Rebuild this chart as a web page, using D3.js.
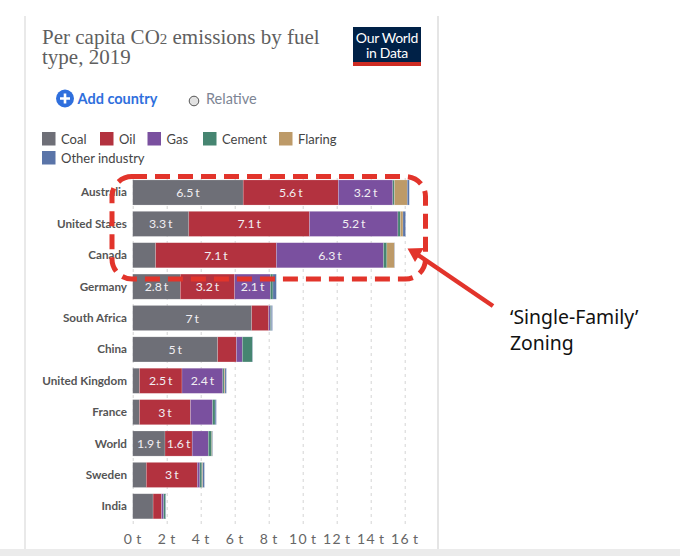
<!DOCTYPE html>
<html lang="en">
<head>
<meta charset="UTF-8">
<title>Per capita CO2 emissions by fuel type, 2019</title>
<script src="https://d3js.org/d3.v7.min.js"></script>
<style>
    html, body { margin: 0; padding: 0; background: #fff; }
    svg { display: block; }
    text { font-family: Lato, sans-serif; }
    .grid line { stroke: #d4d4d4; stroke-dasharray: 3 4; }
    .tick-label { fill: #666; letter-spacing: 1.4px; word-spacing: -2px; }
    .country { font-size: 11.7px; font-weight: 700; fill: #555; }
    .bar-label { font-size: 12.3px; fill: #f1eef2; word-spacing: -1.2px; }
    .legend-label { font-size: 13px; fill: #444; }
</style>
</head>
<body>
<div id="chart"></div>
<script>
    const countries = ["Australia", "United States", "Canada", "Germany", "South Africa", "China",
        "United Kingdom", "France", "World", "Sweden", "India"];

    const coal = [6.5, 3.3, 1.35, 2.8, 7, 5, 0.4, 0.4, 1.9, 0.8, 1.2];
    const oil = [5.6, 7.1, 7.1, 3.2, 1, 1.1, 2.5, 3, 1.6, 3, 0.5];
    const gas = [3.2, 5.2, 6.3, 2.1, 0.1, 0.35, 2.4, 1.3, 0.95, 0.15, 0.12];
    const cement = [0.1, 0.15, 0.2, 0.15, 0.06, 0.6, 0.08, 0.15, 0.2, 0.12, 0.12];
    const flaring = [0.75, 0.15, 0.45, 0, 0, 0, 0.05, 0, 0.03, 0.05, 0];
    const otherIndustry = [0.12, 0.15, 0.02, 0.2, 0.06, 0.02, 0.08, 0.07, 0.03, 0.1, 0.02];

    const fuels = ["Coal", "Oil", "Gas", "Cement", "Flaring", "Other industry"];
    const fuelValues = [coal, oil, gas, cement, flaring, otherIndustry];
    const fuelColors = ["#6e6f77", "#b3323f", "#7a509f", "#468571", "#bd9a68", "#5a74a8"];
    const xTicks = [0, 2, 4, 6, 8, 10, 12, 14, 16];

    const width = 680, height = 556;

    const svg = d3.select("#chart").append("svg")
        .attr("width", width)
        .attr("height", height);

    // card edges and the grey strip at the bottom of the screenshot
    svg.append("line").attr("x1", 25).attr("x2", 25).attr("y1", 16).attr("y2", 549)
        .attr("stroke", "#e2e2e2").attr("stroke-width", 1.5);
    svg.append("line").attr("x1", 438).attr("x2", 438).attr("y1", 16).attr("y2", 549)
        .attr("stroke", "#dcdcdc").attr("stroke-width", 1.5);
    svg.append("rect").attr("x", 0).attr("y", 549).attr("width", width).attr("height", 7)
        .attr("fill", "#ebebeb");

    // title
    const title = svg.append("text")
        .style("font-family", "'Liberation Serif', serif")
        .style("font-size", "21px")
        .attr("fill", "#5f5f5f");
    const firstLine = title.append("tspan").attr("x", 42).attr("y", 44);
    firstLine.append("tspan").text("Per capita CO");
    firstLine.append("tspan").style("font-size", "15px").text("2");
    firstLine.append("tspan").text(" emissions by fuel");
    title.append("tspan").attr("x", 42).attr("y", 64).text("type, 2019");

    // logo
    svg.append("rect").attr("x", 353).attr("y", 27).attr("width", 68).attr("height", 39).attr("fill", "#002147");
    svg.append("rect").attr("x", 353).attr("y", 62).attr("width", 68).attr("height", 4).attr("fill", "#ce2b22");
    const logoText = svg.append("text")
        .attr("text-anchor", "middle")
        .attr("fill", "#fff")
        .style("font-size", "14px")
        .style("letter-spacing", "-0.3px");
    logoText.append("tspan").attr("x", 387).attr("y", 43).text("Our World");
    logoText.append("tspan").attr("x", 387).attr("y", 57.5).text("in Data");

    // controls
    svg.append("circle").attr("cx", 65).attr("cy", 98.5).attr("r", 9).attr("fill", "#2f6fdd");
    svg.append("path").attr("d", "M60 98.5H70M65 93.5V103.5").attr("stroke", "#fff").attr("stroke-width", 2.6);
    svg.append("text").attr("x", 77.5).attr("y", 104).attr("fill", "#2f6fdd")
        .style("font-size", "14.5px").style("font-weight", 700).text("Add country");
    svg.append("circle").attr("cx", 194).attr("cy", 101).attr("r", 4.8)
        .attr("fill", "#e2e2e2").attr("stroke", "#555").attr("stroke-width", 1);
    svg.append("text").attr("x", 206).attr("y", 104).attr("fill", "#7d8594")
        .style("font-size", "14.5px").text("Relative");

    // legend, wrapped onto two rows like the original
    const legendX = [42, 100, 147.5, 203, 279, 42];
    const legendY = [132, 132, 132, 132, 132, 151];
    const legend = svg.selectAll(".legend")
        .data(fuels)
        .enter()
        .append("g")
        .attr("class", "legend")
        .attr("transform", (d, i) => `translate(${legendX[i]},${legendY[i]})`);
    legend.append("rect").attr("width", 13.5).attr("height", 13.5).attr("fill", (d, i) => fuelColors[i]);
    legend.append("text").attr("class", "legend-label").attr("x", 19).attr("y", 11.5).text(d => d);

    // scales
    const x = d3.scaleLinear().domain([0, 16]).range([132.7, 404.7]);
    const y = d3.scaleBand().domain(countries).range([176.8, 522]).paddingInner(0.2).paddingOuter(0.1);

    // grid and axis
    const axis = svg.append("g")
        .attr("class", "grid")
        .attr("transform", "translate(0,524)")
        .call(d3.axisBottom(x).tickValues(xTicks).tickSize(-348).tickFormat(d => d + " t"));
    axis.select(".domain").remove();
    axis.selectAll("text").attr("class", "tick-label").attr("y", 20).attr("dy", 0)
        .style("font-family", "Lato, sans-serif").style("font-size", "14px");
    axis.attr("font-family", null).attr("font-size", null);

    // bars
    const rows = countries.map((c, i) => {
        const row = { country: c };
        fuels.forEach((f, j) => { row[f] = fuelValues[j][i]; });
        return row;
    });
    const stacked = d3.stack().keys(fuels)(rows);

    const series = svg.selectAll(".series")
        .data(stacked)
        .enter()
        .append("g")
        .attr("class", "series")
        .attr("fill", (d, i) => fuelColors[i]);

    series.selectAll("rect")
        .data(d => d)
        .enter()
        .append("rect")
        .attr("x", d => x(d[0]))
        .attr("y", d => y(d.data.country))
        .attr("width", d => x(d[1]) - x(d[0]))
        .attr("height", y.bandwidth())
        .attr("stroke", "#fff")
        .attr("stroke-opacity", 0.3)
        .attr("stroke-width", 0.6);

    // value labels only where the segment is wide enough
    series.selectAll(".bar-label")
        .data(d => d.filter(s => s[1] - s[0] >= 1.5))
        .enter()
        .append("text")
        .attr("class", "bar-label")
        .attr("x", d => (x(d[0]) + x(d[1])) / 2)
        .attr("y", d => y(d.data.country) + y.bandwidth() / 2 + 4.5)
        .attr("text-anchor", "middle")
        .text(d => (d[1] - d[0]).toFixed(1).replace(".0", "") + " t");

    svg.selectAll(".country")
        .data(countries)
        .enter()
        .append("text")
        .attr("class", "country")
        .attr("x", 127)
        .attr("y", d => y(d) + y.bandwidth() / 2 + 4)
        .attr("text-anchor", "end")
        .text(d => d);

    // hand-drawn annotation on top of the chart
    svg.append("rect")
        .attr("x", 112).attr("y", 176.5).attr("width", 313.5).attr("height", 102.5)
        .attr("rx", 20).attr("ry", 20)
        .attr("fill", "none")
        .attr("stroke", "#e2342b")
        .attr("stroke-width", 5)
        .attr("stroke-dasharray", "15 8");

    svg.append("line")
        .attr("x1", 493).attr("y1", 306).attr("x2", 418).attr("y2", 255)
        .attr("stroke", "#e2342b").attr("stroke-width", 4.5);
    svg.append("path")
        .attr("d", "M407.5 248.5L424 248L415 262Z")
        .attr("fill", "#e2342b");

    const note = svg.append("text")
        .style("font-family", "'Noto Sans', sans-serif")
        .style("font-size", "19.4px")
        .attr("fill", "#111");
    note.append("tspan").attr("x", 510).attr("y", 324).text("‘Single-Family’");
    note.append("tspan").attr("x", 510).attr("y", 350).text("Zoning");
</script>
</body>
</html>
